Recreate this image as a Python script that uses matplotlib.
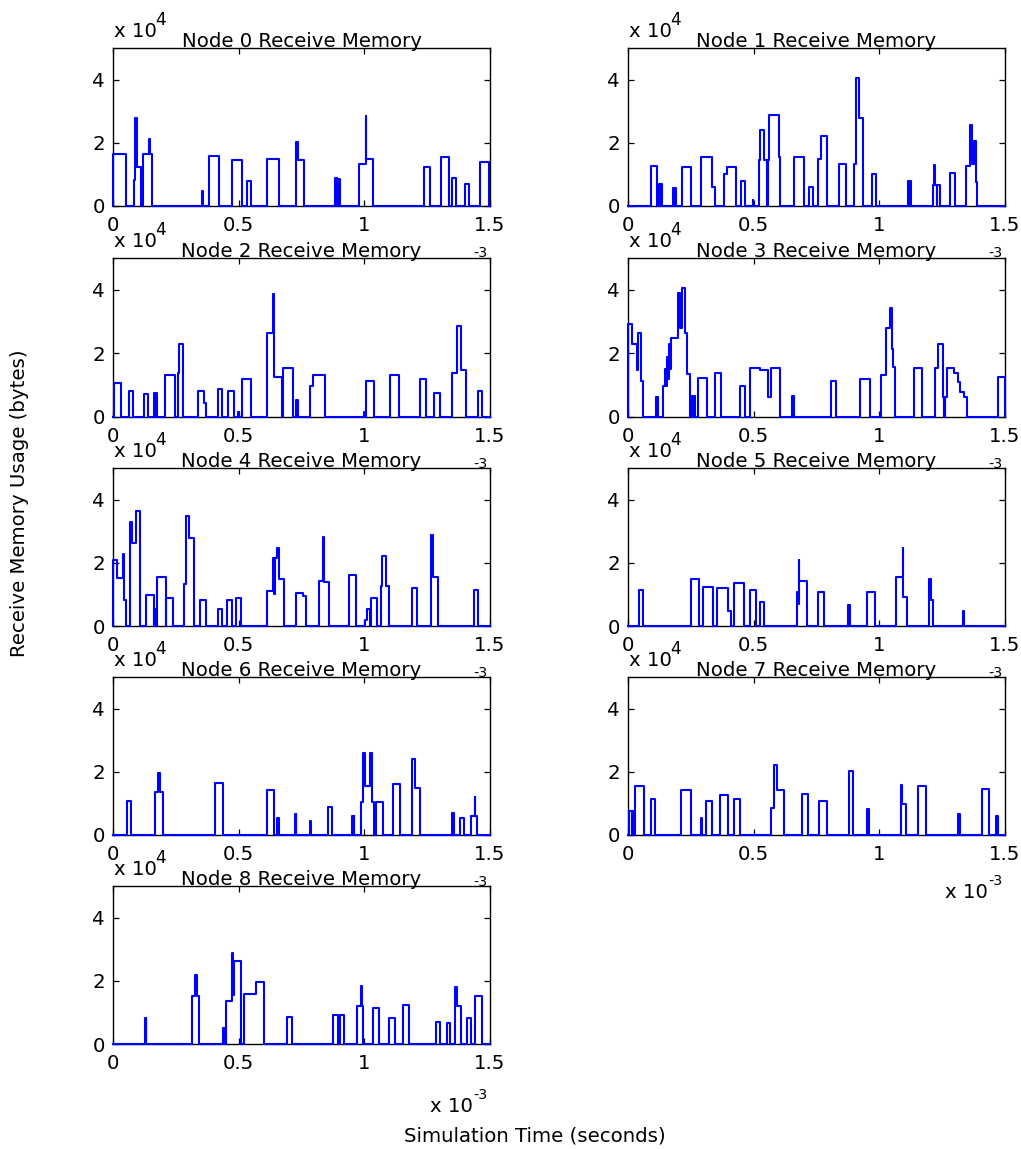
import matplotlib
matplotlib.use("Agg")
import matplotlib.pyplot as plt

# receive buffer occupancy per node: (start, end, level) with time in ms
# and level in units of 1e4 bytes; the buffer is empty between bursts
node0 = [
    (0.000, 0.050, 1.63),
    (0.082, 0.088, 0.83), (0.088, 0.091, 2.80), (0.091, 0.093, 1.22), (0.093, 0.097, 2.80), (0.097, 0.113, 1.22),
    (0.120, 0.145, 1.63), (0.145, 0.148, 2.13), (0.148, 0.155, 1.63),
    (0.355, 0.358, 0.46),
    (0.382, 0.420, 1.57),
    (0.473, 0.515, 1.45),
    (0.535, 0.551, 0.80),
    (0.612, 0.661, 1.50),
    (0.728, 0.736, 2.02), (0.736, 0.760, 1.46),
    (0.882, 0.886, 0.90), (0.887, 0.891, 0.88), (0.892, 0.897, 0.86), (0.898, 0.904, 0.85),
    (0.980, 1.005, 1.34), (1.005, 1.008, 2.85), (1.008, 1.036, 1.50),
    (1.236, 1.262, 1.23),
    (1.305, 1.336, 1.56),
    (1.348, 1.365, 0.89),
    (1.402, 1.418, 0.69),
    (1.460, 1.497, 1.40),
]
node1 = [
    (0.091, 0.115, 1.28),
    (0.125, 0.130, 0.69), (0.131, 0.135, 0.69),
    (0.181, 0.186, 0.56), (0.187, 0.191, 0.56),
    (0.215, 0.252, 1.23),
    (0.291, 0.335, 1.56), (0.335, 0.348, 0.61),
    (0.382, 0.394, 1.00), (0.394, 0.431, 1.23),
    (0.450, 0.466, 0.78),
    (0.496, 0.499, 0.20),
    (0.522, 0.527, 1.44), (0.527, 0.543, 2.40), (0.543, 0.554, 1.44),
    (0.556, 0.562, 1.44), (0.562, 0.599, 2.88), (0.599, 0.606, 1.56),
    (0.659, 0.701, 1.56),
    (0.721, 0.738, 0.61),
    (0.755, 0.768, 1.50), (0.768, 0.791, 2.22),
    (0.840, 0.868, 1.33),
    (0.901, 0.909, 1.33), (0.909, 0.918, 4.05), (0.918, 0.937, 2.78),
    (0.971, 0.986, 1.00),
    (1.116, 1.120, 0.78), (1.121, 1.125, 0.78),
    (1.212, 1.219, 0.67), (1.219, 1.221, 1.29), (1.221, 1.229, 0.67), (1.230, 1.240, 0.67),
    (1.283, 1.300, 1.06),
    (1.346, 1.361, 1.28), (1.361, 1.369, 2.57), (1.369, 1.378, 1.32), (1.378, 1.383, 2.05), (1.383, 1.390, 0.77),
]
node2 = [
    (0.004, 0.031, 1.08),
    (0.062, 0.078, 0.82),
    (0.125, 0.141, 0.72),
    (0.165, 0.170, 0.77), (0.171, 0.177, 0.77),
    (0.208, 0.245, 1.32),
    (0.257, 0.262, 1.37), (0.262, 0.279, 2.30),
    (0.340, 0.363, 0.82), (0.363, 0.372, 0.44),
    (0.416, 0.433, 0.87),
    (0.458, 0.481, 0.82),
    (0.498, 0.502, 0.16),
    (0.514, 0.551, 1.21),
    (0.612, 0.637, 2.63), (0.637, 0.639, 3.86), (0.639, 0.671, 1.26),
    (0.675, 0.717, 1.55),
    (0.729, 0.733, 0.55), (0.734, 0.738, 0.55),
    (0.785, 0.794, 0.99), (0.794, 0.843, 1.32),
    (0.999, 1.004, 0.16),
    (1.007, 1.037, 1.14),
    (1.102, 1.139, 1.32),
    (1.223, 1.246, 1.21),
    (1.279, 1.300, 0.77),
    (1.348, 1.368, 1.37), (1.368, 1.385, 2.86), (1.385, 1.405, 1.47),
    (1.453, 1.469, 0.82),
]
node3 = [
    (0.000, 0.016, 2.92), (0.016, 0.036, 2.30), (0.036, 0.038, 1.47), (0.038, 0.050, 2.63), (0.050, 0.060, 1.14),
    (0.113, 0.120, 0.63),
    (0.139, 0.148, 0.99), (0.148, 0.152, 1.50), (0.152, 0.156, 0.99), (0.156, 0.160, 1.90), (0.160, 0.163, 1.20),
    (0.163, 0.167, 2.30), (0.167, 0.171, 1.50), (0.171, 0.197, 2.47), (0.197, 0.205, 3.90), (0.205, 0.215, 2.80),
    (0.215, 0.226, 4.05), (0.226, 0.235, 2.63), (0.235, 0.245, 1.34),
    (0.254, 0.260, 0.66), (0.261, 0.268, 0.66),
    (0.277, 0.315, 1.23),
    (0.347, 0.370, 1.37),
    (0.444, 0.466, 0.99),
    (0.486, 0.526, 1.55), (0.526, 0.556, 1.49), (0.556, 0.568, 0.63), (0.568, 0.603, 1.55),
    (0.653, 0.656, 0.66), (0.657, 0.659, 0.66),
    (0.806, 0.828, 1.14),
    (0.924, 0.961, 1.21),
    (1.007, 1.027, 1.32), (1.027, 1.043, 2.81), (1.043, 1.049, 3.42), (1.049, 1.056, 2.14), (1.056, 1.063, 1.58),
    (1.138, 1.169, 1.55),
    (1.222, 1.235, 1.55), (1.235, 1.253, 2.30), (1.253, 1.257, 0.63), (1.258, 1.262, 0.63), (1.263, 1.268, 0.63),
    (1.268, 1.297, 1.55), (1.297, 1.314, 1.37), (1.314, 1.321, 1.10), (1.321, 1.337, 0.79), (1.337, 1.348, 0.63),
    (1.471, 1.500, 1.26),
]
node4 = [
    (0.000, 0.016, 2.10), (0.016, 0.040, 1.52), (0.040, 0.043, 2.27), (0.043, 0.050, 0.81),
    (0.069, 0.076, 3.30), (0.076, 0.090, 2.63), (0.090, 0.106, 3.63),
    (0.133, 0.162, 0.98), (0.164, 0.173, 0.55),
    (0.175, 0.210, 1.55),
    (0.212, 0.239, 0.88),
    (0.283, 0.292, 1.32), (0.292, 0.301, 3.47), (0.301, 0.321, 2.80),
    (0.348, 0.372, 0.81),
    (0.417, 0.433, 0.55),
    (0.452, 0.474, 0.81),
    (0.491, 0.510, 0.88),
    (0.614, 0.637, 1.10), (0.637, 0.641, 2.15), (0.641, 0.644, 1.00), (0.644, 0.651, 2.15),
    (0.651, 0.660, 2.48), (0.660, 0.681, 1.48),
    (0.728, 0.754, 1.04), (0.754, 0.766, 0.94),
    (0.819, 0.836, 1.42), (0.836, 0.841, 2.82), (0.841, 0.861, 1.38),
    (0.938, 0.967, 1.60),
    (1.003, 1.009, 0.18), (1.009, 1.022, 0.55), (1.025, 1.049, 0.88),
    (1.065, 1.072, 1.27), (1.072, 1.086, 2.20), (1.086, 1.098, 1.27),
    (1.189, 1.211, 1.20),
    (1.266, 1.273, 2.87), (1.273, 1.295, 1.55),
    (1.438, 1.453, 1.15),
]
node5 = [
    (0.042, 0.058, 1.15),
    (0.249, 0.281, 1.48),
    (0.300, 0.337, 1.25),
    (0.355, 0.399, 1.21), (0.399, 0.411, 0.48),
    (0.423, 0.460, 1.35),
    (0.486, 0.509, 1.15),
    (0.526, 0.542, 0.76),
    (0.673, 0.677, 1.09), (0.677, 0.680, 0.70), (0.680, 0.682, 2.09), (0.682, 0.712, 1.42),
    (0.757, 0.778, 1.09),
    (0.875, 0.878, 0.65), (0.879, 0.882, 0.65),
    (0.951, 0.981, 1.09),
    (1.067, 1.093, 1.54), (1.093, 1.095, 2.47), (1.095, 1.112, 0.93),
    (1.199, 1.206, 1.48), (1.206, 1.215, 0.81),
    (1.332, 1.335, 0.49),
]
node6 = [
    (0.056, 0.072, 1.08),
    (0.167, 0.181, 1.37), (0.181, 0.188, 1.97), (0.188, 0.197, 1.37),
    (0.404, 0.438, 1.65),
    (0.614, 0.641, 1.42),
    (0.653, 0.657, 0.55), (0.658, 0.661, 0.55),
    (0.724, 0.727, 0.65), (0.728, 0.730, 0.65),
    (0.785, 0.788, 0.44),
    (0.857, 0.871, 0.89),
    (0.952, 0.956, 0.61), (0.957, 0.960, 0.61),
    (0.987, 0.993, 1.03), (0.993, 1.003, 2.58), (1.003, 1.023, 1.55), (1.023, 1.032, 2.58), (1.032, 1.039, 1.03),
    (1.046, 1.073, 1.03),
    (1.113, 1.142, 1.60),
    (1.189, 1.203, 2.42), (1.203, 1.223, 1.50),
    (1.348, 1.353, 0.70), (1.354, 1.358, 0.70),
    (1.381, 1.398, 0.55),
    (1.425, 1.440, 0.60), (1.440, 1.442, 1.21), (1.442, 1.448, 0.60),
]
node7 = [
    (0.005, 0.014, 0.75), (0.015, 0.023, 0.75),
    (0.027, 0.065, 1.54),
    (0.090, 0.106, 1.15),
    (0.209, 0.250, 1.41),
    (0.292, 0.295, 0.55),
    (0.311, 0.335, 1.09),
    (0.367, 0.398, 1.26),
    (0.423, 0.447, 1.15),
    (0.568, 0.582, 0.87), (0.582, 0.592, 2.23), (0.592, 0.619, 1.41),
    (0.692, 0.716, 1.31),
    (0.758, 0.792, 1.09),
    (0.881, 0.897, 2.02),
    (0.950, 0.954, 0.82), (0.955, 0.958, 0.82),
    (1.087, 1.091, 1.59), (1.091, 1.105, 0.97),
    (1.153, 1.186, 1.54),
    (1.312, 1.316, 0.66), (1.317, 1.320, 0.66),
    (1.410, 1.437, 1.47),
    (1.463, 1.467, 0.61), (1.468, 1.472, 0.61),
]
node8 = [
    (0.126, 0.130, 0.81), (0.131, 0.133, 0.81),
    (0.313, 0.326, 1.53), (0.326, 0.333, 2.17), (0.333, 0.343, 1.53),
    (0.438, 0.443, 0.52), (0.444, 0.448, 0.52),
    (0.451, 0.473, 1.35), (0.473, 0.478, 2.88), (0.478, 0.482, 1.54), (0.482, 0.510, 2.62),
    (0.522, 0.568, 1.57), (0.568, 0.599, 1.96),
    (0.693, 0.711, 0.87),
    (0.876, 0.885, 0.92), (0.885, 0.894, 0.92),
    (0.903, 0.911, 0.92), (0.911, 0.920, 0.92),
    (0.972, 0.985, 1.19), (0.985, 0.991, 1.85), (0.991, 0.996, 1.19),
    (1.036, 1.058, 1.14),
    (1.100, 1.121, 0.82),
    (1.155, 1.176, 1.25),
    (1.285, 1.303, 0.70),
    (1.328, 1.342, 0.66),
    (1.362, 1.368, 1.80), (1.368, 1.385, 1.19),
    (1.410, 1.426, 0.82),
    (1.440, 1.469, 1.53),
]
nodes = [node0, node1, node2, node3, node4, node5, node6, node7, node8]

t_end = 1.5
x_ticks = [0, 0.5, 1, 1.5]
x_ticklabels = ["0", "0.5", "1", "1.5"]
y_ticks = [0, 2, 4]
y_ticklabels = ["0", "2", "4"]

plt.rcParams["font.family"] = ["DejaVu Sans"]
FS = 14.2

W, H = 1021, 1149
fig = plt.figure(figsize=(W / 100, H / 100), dpi=100)

# subplot boxes in pixels (left, right) and (top, bottom)
cols = [(113, 490), (628, 1005)]
rows = [(48, 206), (258, 417), (468, 626), (677, 835), (886, 1044)]


def fx(px):
    return px / W


def fy(py):
    return 1 - py / H


def steps(segs):
    # turn burst segments into a step outline that returns to zero between bursts
    xs, ys = [0.0], [0.0]
    level = 0.0
    for i, (t0, t1, v) in enumerate(segs):
        xs += [t0, t0, t1]
        ys += [level, v, v]
        nxt = segs[i + 1][0] if i + 1 < len(segs) else None
        if nxt is None or nxt > t1 + 1e-9:
            xs.append(t1)
            ys.append(0.0)
            level = 0.0
        else:
            level = v
    xs.append(t_end)
    ys.append(0.0)
    return xs, ys


for k, segs in enumerate(nodes):
    c = cols[k % 2]
    r = rows[k // 2]
    ax = fig.add_axes([fx(c[0]), fy(r[1]), (c[1] - c[0]) / W, (r[1] - r[0]) / H])
    xs, ys = steps(segs)
    ax.plot(xs, ys, color="#0000ff", lw=1.5, clip_on=False, zorder=3)
    ax.set_xlim(0, t_end)
    ax.set_ylim(0, 5)
    ax.set_xticks(x_ticks)
    ax.set_xticklabels(x_ticklabels)
    ax.set_yticks(y_ticks)
    ax.set_yticklabels(y_ticklabels)
    ax.tick_params(direction="in", top=True, right=True, length=4, width=0.9,
                   labelsize=FS)
    ax.tick_params(axis="x", pad=7)
    ax.tick_params(axis="y", pad=6)
    for s in ax.spines.values():
        s.set_linewidth(1.0)
    ax.set_title("Node %d Receive Memory" % k, fontsize=FS, pad=1)

    # y multiplier above the top-left corner
    ax.text(fx(c[0] + 1), fy(r[0] - 11), "x 10", transform=fig.transFigure,
            fontsize=FS, ha="left", va="baseline", clip_on=False)
    ax.text(fx(c[0] + 42), fy(r[0] - 23), "4", transform=fig.transFigure,
            fontsize=FS - 2, ha="left", va="baseline", clip_on=False)

    # x multiplier below the bottom-right corner; the axes below hide most of it
    if k >= 7:
        drop, lift = (68 if k == 8 else 63), 13
    else:
        drop, lift = 70, 19
    ax.text(fx(c[1] - 17), fy(r[1] + drop), "x 10", transform=fig.transFigure,
            fontsize=FS, ha="right", va="baseline", clip_on=False)
    ax.text(fx(c[1] - 17), fy(r[1] + drop - lift), "-3", transform=fig.transFigure,
            fontsize=FS - 4, ha="left", va="baseline", clip_on=False)

fig.text(fx(20), fy(503), "Receive Memory Usage (bytes)", rotation=90,
         fontsize=FS, ha="center", va="center")
fig.text(fx(535), fy(1136), "Simulation Time (seconds)", fontsize=FS,
         ha="center", va="center")

fig.savefig("out.png", dpi=100, facecolor="white")
